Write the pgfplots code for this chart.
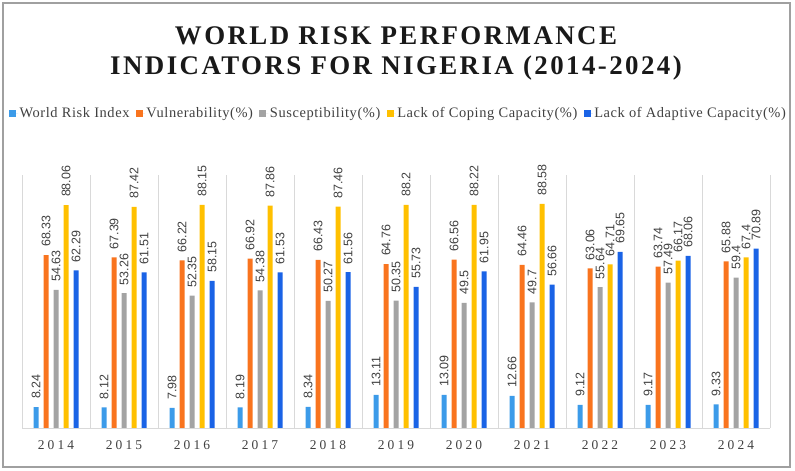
\documentclass[border=0pt]{standalone}
\usepackage{pgfplots}
\pgfplotsset{compat=1.18}
\usepackage{fontspec}
\setmainfont{Liberation Serif}
\newfontfamily\labelfont{Liberation Sans}
\newfontfamily\titlefont[LetterSpace=9]{Liberation Serif}
\newfontfamily\yearfont[LetterSpace=23]{Liberation Serif}
\newfontfamily\legfont[LetterSpace=4]{Liberation Serif}
\definecolor{cwri}{HTML}{3C9BE9}
\definecolor{cvul}{HTML}{F9741E}
\definecolor{csus}{HTML}{A3A3A3}
\definecolor{ccop}{HTML}{FFC000}
\definecolor{cada}{HTML}{1A63E6}
\definecolor{sepgray}{HTML}{D9D9D9}
\definecolor{framegray}{HTML}{A0A0A0}
\definecolor{labelgray}{HTML}{404040}
\begin{document}
\begin{tikzpicture}[x=1bp,y=1bp]
\path (0,0) rectangle (795,471);
\draw[color=framegray,line width=1.6bp] (3,4) rectangle (790,468);
\node[anchor=base,font=\titlefont\bfseries\fontsize{27}{30}\selectfont,text=black!90] at (396,426) {WORLD RISK PERFORMANCE};
\node[anchor=base,font=\titlefont\bfseries\fontsize{27}{30}\selectfont,text=black!90] at (396,396) {INDICATORS FOR NIGERIA (2014-2024)};
\begin{axis}[
  at={(22bp,43bp)}, anchor=south west, scale only axis,
  width=748bp, height=253bp,
  ybar=5bp, bar width=5bp,
  xmin=-0.5, xmax=10.5, ymin=0, ymax=100,
  xtick={0,1,2,3,4,5,6,7,8,9,10},
  xticklabels={2014,2015,2016,2017,2018,2019,2020,2021,2022,2023,2024},
  minor xtick={-0.5,0.5,1.5,2.5,3.5,4.5,5.5,6.5,7.5,8.5,9.5,10.5},
  xminorgrids, minor grid style={sepgray, line width=0.9bp},
  major tick length=0, minor tick length=0,
  axis x line*=bottom, axis y line=none,
  x axis line style={sepgray, line width=0.9bp, -},
  ytick=\empty,
  xticklabel style={anchor=base, yshift=-22bp, font=\yearfont\fontsize{13.5}{13.5}\selectfont, text=labelgray},
  clip=false,
  nodes near coords={\pgfmathprintnumber[fixed,precision=2,assume math mode=true]{\pgfplotspointmeta}},
  every node near coord/.append style={rotate=90, anchor=west, font=\labelfont\fontsize{12.5}{12.5}\selectfont, text=labelgray, inner xsep=8bp, inner ysep=1bp},
  legend columns=5,
  legend image code/.code={\fill[#1] (0bp,-3.5bp) rectangle (7bp,3.5bp); \path (0bp,0bp) -- (9bp,0bp);},
  legend style={at={(0.503,1.245)}, anchor=center, draw=none, fill=none,
    font=\legfont\fontsize{14.5}{15}\selectfont, text=labelgray,
    nodes={inner xsep=1.5bp},
    /tikz/every even column/.append style={column sep=5bp},
    /tikz/every odd column/.append style={column sep=0bp}},
]
\addplot[fill=cwri, draw=none] coordinates {(0,8.24) (1,8.12) (2,7.98) (3,8.19) (4,8.34) (5,13.11) (6,13.09) (7,12.66) (8,9.12) (9,9.17) (10,9.33)};
\addplot[fill=cvul, draw=none] coordinates {(0,68.33) (1,67.39) (2,66.22) (3,66.92) (4,66.43) (5,64.76) (6,66.56) (7,64.46) (8,63.06) (9,63.74) (10,65.88)};
\addplot[fill=csus, draw=none] coordinates {(0,54.63) (1,53.26) (2,52.35) (3,54.38) (4,50.27) (5,50.35) (6,49.5) (7,49.7) (8,55.64) (9,57.49) (10,59.4)};
\addplot[fill=ccop, draw=none] coordinates {(0,88.06) (1,87.42) (2,88.15) (3,87.86) (4,87.46) (5,88.2) (6,88.22) (7,88.58) (8,64.71) (9,66.17) (10,67.4)};
\addplot[fill=cada, draw=none] coordinates {(0,62.29) (1,61.51) (2,58.15) (3,61.53) (4,61.56) (5,55.73) (6,61.95) (7,56.66) (8,69.65) (9,68.06) (10,70.89)};
\legend{World Risk Index, Vulnerability(\%), Susceptibility(\%), Lack of Coping Capacity(\%), Lack of Adaptive Capacity(\%)}
\end{axis}
\end{tikzpicture}
\end{document}
